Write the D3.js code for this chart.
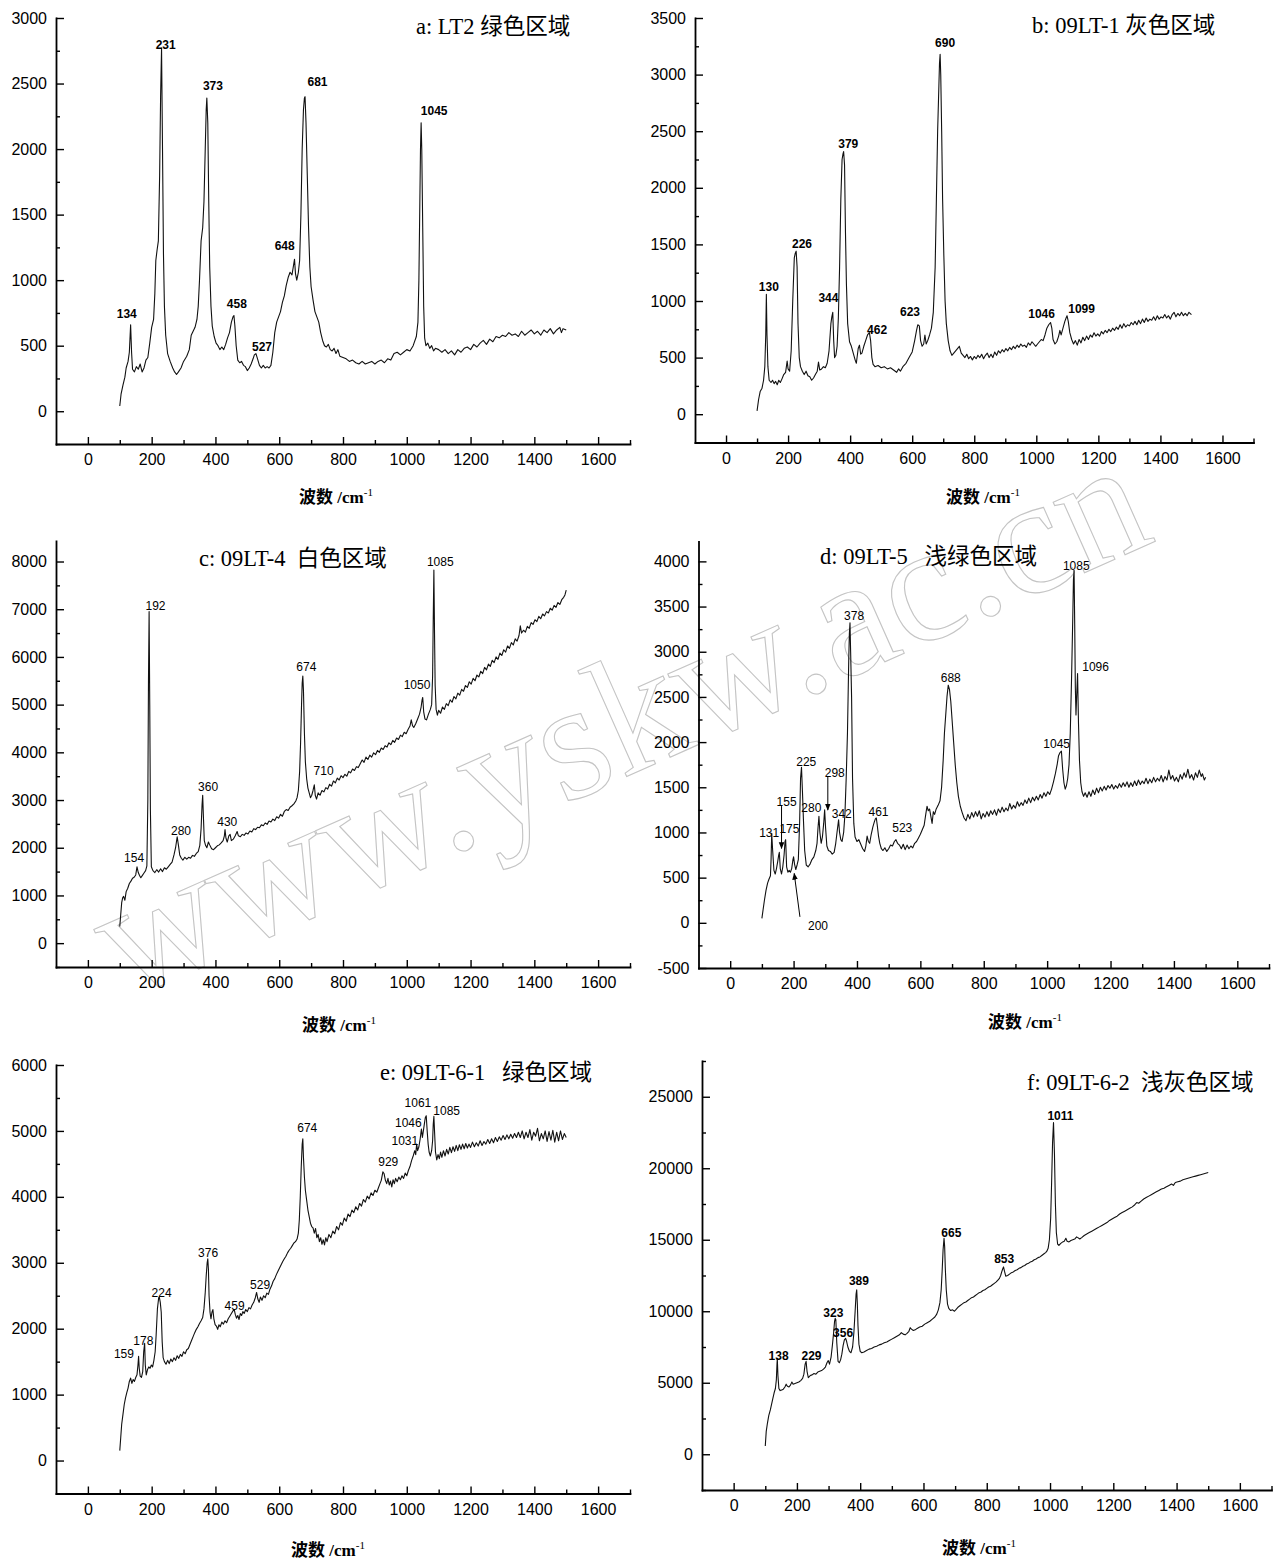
<!DOCTYPE html>
<html><head><meta charset="utf-8">
<script src="https://cdn.jsdelivr.net/npm/d3@7"></script>
<style>
body{margin:0;background:#fff}
svg{display:block}
.tick text{font-family:"Liberation Sans",Arial,sans-serif;font-size:16px;fill:#000}
.ptitle{font-family:"Liberation Serif","Noto Sans CJK SC",serif;font-size:22.5px;white-space:pre;fill:#000}
.xtitle{font-family:"Liberation Serif","Noto Sans CJK SC",serif;font-size:17px;font-weight:bold;white-space:pre;fill:#000}
.plabel{font-family:"Liberation Sans",Arial,sans-serif;font-size:12px;fill:#000}
</style>
</head><body>
<svg id="chart" width="1286" height="1564"></svg>
<script>
// ---------------- data ----------------
const xDomain = [-100, 1700];
const xTickLabels = [0, 200, 400, 600, 800, 1000, 1200, 1400, 1600];
const xMinorTicks = [100, 300, 500, 700, 900, 1100, 1300, 1500, 1700];

const titleA = "a: LT2 绿色区域";
const titleB = "b: 09LT-1 灰色区域";
const titleC = "c: 09LT-4  白色区域";
const titleD = "d: 09LT-5   浅绿色区域";
const titleE = "e: 09LT-6-1   绿色区域";
const titleF = "f: 09LT-6-2  浅灰色区域";

const yTicksA = [0, 500, 1000, 1500, 2000, 2500, 3000];
const yMinorA = [-250, 250, 750, 1250, 1750, 2250, 2750];
const yTicksB = [0, 500, 1000, 1500, 2000, 2500, 3000, 3500];
const yMinorB = [-250, 250, 750, 1250, 1750, 2250, 2750, 3250];
const yTicksC = [0, 1000, 2000, 3000, 4000, 5000, 6000, 7000, 8000];
const yMinorC = [-500, 500, 1500, 2500, 3500, 4500, 5500, 6500, 7500];
const yTicksD = [-500, 0, 500, 1000, 1500, 2000, 2500, 3000, 3500, 4000];
const yMinorD = [-250, 250, 750, 1250, 1750, 2250, 2750, 3250, 3750];
const yTicksE = [0, 1000, 2000, 3000, 4000, 5000, 6000];
const yMinorE = [-500, 500, 1500, 2500, 3500, 4500, 5500];
const yTicksF = [0, 5000, 10000, 15000, 20000, 25000];
const yMinorF = [-2500, 2500, 7500, 12500, 17500, 22500, 27500];

const specA = [[100,40],[104,130],[110,200],[116,260],[120,330],[126,380],[130,450],[134,660],[137,450],[140,320],[146,300],[152,340],[158,320],[164,360],[170,300],[176,330],[182,390],[188,410],[194,520],[200,640],[206,700],[210,900],[213,1150],[217,1230],[221,1300],[225,1800],[228,2400],[231,2770],[234,2000],[237,1200],[240,800],[244,580],[250,440],[258,380],[266,330],[272,300],[278,280],[284,300],[292,330],[300,380],[310,420],[318,470],[324,580],[330,610],[336,640],[342,700],[346,800],[350,1000],[355,1300],[360,1400],[364,1600],[368,2000],[371,2300],[373,2390],[376,2200],[379,1600],[382,1100],[386,800],[390,650],[396,570],[402,520],[408,500],[414,470],[420,490],[426,470],[432,510],[438,560],[444,600],[450,680],[455,720],[458,730],[461,650],[465,500],[470,390],[476,370],[482,380],[488,350],[494,340],[500,310],[506,330],[512,360],[518,400],[522,430],[527,440],[532,400],[538,350],[544,330],[550,350],[556,330],[562,340],[568,330],[574,350],[580,450],[586,600],[592,680],[598,720],[604,760],[610,830],[616,880],[622,960],[628,1020],[634,1060],[640,1040],[644,1100],[648,1160],[651,1050],[655,1000],[660,1060],[664,1150],[668,1500],[672,2000],[676,2300],[679,2390],[681,2400],[684,2200],[688,1800],[692,1400],[696,1100],[700,950],[706,850],[712,760],[718,720],[724,680],[730,600],[736,540],[742,500],[748,490],[754,510],[760,470],[766,460],[772,480],[778,440],[784,470],[790,420],[800,410],[810,400],[820,380],[830,390],[840,370],[850,360],[860,380],[870,360],[880,370],[890,380],[900,360],[910,380],[920,390],[930,370],[940,400],[950,390],[960,440],[970,450],[980,430],[990,450],[1000,470],[1010,460],[1020,500],[1030,570],[1035,680],[1038,1000],[1041,1600],[1043,2000],[1045,2200],[1047,2000],[1050,1400],[1053,800],[1056,560],[1060,500],[1066,520],[1072,480],[1078,500],[1084,460],[1090,480],[1100,470],[1110,450],[1120,470],[1130,440],[1140,460],[1150,430],[1160,470],[1170,450],[1180,480],[1190,490],[1200,470],[1210,510],[1220,490],[1230,520],[1240,540],[1250,510],[1260,550],[1270,530],[1280,570],[1290,560],[1300,580],[1310,570],[1320,600],[1330,580],[1340,590],[1350,570],[1360,610],[1370,580],[1380,600],[1390,620],[1400,590],[1410,610],[1420,580],[1430,620],[1440,600],[1450,630],[1460,590],[1470,620],[1480,640],[1485,600],[1490,630],[1500,620]];

const specB = [[100,30],[105,130],[110,200],[116,230],[121,300],[125,420],[128,700],[130,1060],[132,700],[135,420],[139,300],[145,280],[150,300],[155,270],[160,290],[165,260],[170,300],[175,280],[180,310],[186,350],[192,370],[197,470],[200,400],[205,380],[210,560],[215,1000],[220,1380],[223,1420],[226,1440],[229,1300],[232,800],[236,500],[240,420],[246,380],[252,350],[258,380],[264,340],[270,330],[276,300],[282,320],[288,350],[294,380],[298,460],[302,390],[308,400],[314,420],[320,410],[326,450],[332,560],[338,800],[341,860],[344,900],[347,650],[350,500],[354,520],[358,600],[362,850],[366,1300],[370,1900],[374,2250],[377,2300],[379,2320],[382,2200],[385,1600],[388,1150],[392,800],[398,640],[404,600],[410,540],[416,480],[420,450],[426,580],[430,610],[434,530],[438,540],[444,600],[450,650],[456,700],[462,720],[466,650],[470,500],[474,440],[480,420],[490,430],[500,410],[510,420],[520,400],[530,410],[540,390],[550,370],[556,400],[562,380],[570,420],[580,450],[590,500],[600,550],[608,650],[614,740],[618,790],[623,780],[627,650],[632,600],[637,620],[641,700],[645,620],[650,650],[656,700],[662,760],[668,900],[674,1300],[678,1900],[682,2500],[686,2900],[688,3100],[690,3180],[692,3000],[695,2500],[698,1900],[702,1400],[706,1000],[710,800],[716,650],[722,560],[728,520],[734,540],[740,560],[746,580],[752,600],[758,540],[764,520],[770,500],[776,530],[782,490],[788,510],[794,480],[800,510],[806,490],[812,520],[818,500],[824,530],[830,490],[836,520],[842,540],[848,500],[854,530],[860,500],[866,550],[872,520],[878,560],[884,540],[890,570],[896,550],[902,580],[908,560],[914,590],[920,570],[926,600],[932,580],[938,610],[944,590],[950,620],[956,600],[962,610],[968,590],[974,630],[980,610],[986,640],[992,620],[998,600],[1004,620],[1010,640],[1016,660],[1022,650],[1028,700],[1034,760],[1040,790],[1046,810],[1050,760],[1054,660],[1060,620],[1066,640],[1072,690],[1076,740],[1080,700],[1086,760],[1092,820],[1096,850],[1099,870],[1103,820],[1108,720],[1114,660],[1120,620],[1126,650],[1132,610],[1138,660],[1144,630],[1150,680],[1156,650],[1162,690],[1168,660],[1174,700],[1180,680],[1186,720],[1192,690],[1198,710],[1204,690],[1210,730],[1216,710],[1222,740],[1228,720],[1234,750],[1240,730],[1246,760],[1252,740],[1258,770],[1264,750],[1270,790],[1276,760],[1282,800],[1288,770],[1294,790],[1300,780],[1306,810],[1312,790],[1318,820],[1324,790],[1330,830],[1336,800],[1342,840],[1348,810],[1354,850],[1360,820],[1366,840],[1372,830],[1378,860],[1384,830],[1390,870],[1396,840],[1402,860],[1408,850],[1414,880],[1420,850],[1426,870],[1432,840],[1438,880],[1444,900],[1450,860],[1456,890],[1462,870],[1468,900],[1474,870],[1480,890],[1486,870],[1492,900],[1500,880]];

const specC = [[100,350],[103,600],[106,850],[109,950],[112,980],[116,900],[120,1080],[125,1150],[130,1250],[135,1300],[140,1360],[145,1380],[150,1430],[154,1600],[158,1480],[162,1420],[166,1370],[171,1420],[176,1470],[181,1520],[185,1620],[188,3000],[190,5500],[192,6950],[194,5000],[196,2800],[199,1600],[204,1520],[210,1480],[216,1540],[222,1490],[228,1560],[234,1500],[240,1580],[246,1550],[252,1600],[258,1650],[264,1700],[270,1850],[275,2000],[280,2230],[284,2050],[288,1850],[293,1780],[298,1740],[304,1800],[310,1760],[316,1800],[322,1780],[328,1840],[334,1820],[340,1880],[346,1920],[351,2050],[355,2400],[358,2900],[360,3100],[362,2700],[365,2150],[369,2050],[373,2000],[378,2120],[382,2060],[388,1980],[394,1960],[400,2000],[406,2040],[412,2060],[418,2100],[424,2150],[428,2250],[430,2380],[433,2200],[437,2120],[442,2250],[446,2280],[450,2150],[456,2180],[462,2250],[468,2340],[472,2250],[478,2230],[484,2280],[490,2260],[496,2310],[502,2290],[508,2350],[514,2330],[520,2400],[526,2380],[532,2430],[538,2420],[544,2480],[550,2460],[556,2520],[562,2490],[568,2560],[574,2540],[580,2600],[586,2570],[592,2650],[598,2620],[604,2700],[610,2660],[616,2760],[622,2800],[628,2780],[634,2850],[640,2880],[646,2920],[652,2980],[656,3050],[660,3200],[664,3600],[667,4200],[670,5000],[672,5450],[674,5600],[676,5300],[679,4400],[682,3800],[686,3450],[690,3250],[694,3150],[698,3050],[702,3100],[706,3200],[710,3320],[713,3100],[717,3020],[722,3150],[728,3100],[734,3200],[740,3170],[746,3260],[752,3230],[758,3330],[764,3290],[770,3400],[776,3360],[782,3460],[788,3420],[794,3510],[800,3470],[806,3540],[812,3500],[818,3600],[824,3570],[830,3650],[836,3620],[842,3700],[848,3680],[854,3760],[860,3840],[866,3790],[872,3900],[878,3850],[884,3940],[890,3900],[896,3990],[902,3950],[908,4040],[914,4000],[920,4090],[926,4060],[932,4140],[938,4110],[944,4200],[950,4160],[956,4250],[962,4210],[968,4300],[974,4270],[980,4360],[986,4330],[992,4420],[998,4390],[1004,4480],[1010,4550],[1014,4680],[1018,4560],[1022,4520],[1028,4600],[1034,4700],[1040,4800],[1045,4950],[1048,5100],[1050,5150],[1053,4850],[1057,4700],[1062,4680],[1068,4800],[1074,4900],[1078,5000],[1081,5600],[1083,6800],[1085,7820],[1087,6500],[1089,5400],[1092,4900],[1096,4780],[1100,4880],[1106,4820],[1112,4950],[1118,4900],[1124,5020],[1130,4980],[1136,5100],[1142,5050],[1148,5170],[1154,5120],[1160,5240],[1166,5200],[1172,5320],[1178,5280],[1184,5400],[1190,5360],[1196,5480],[1202,5430],[1208,5550],[1214,5500],[1220,5620],[1226,5580],[1232,5700],[1238,5650],[1244,5780],[1250,5730],[1256,5850],[1262,5800],[1268,5930],[1274,5880],[1280,6000],[1286,5950],[1292,6080],[1298,6030],[1304,6150],[1310,6100],[1316,6230],[1322,6180],[1328,6300],[1334,6250],[1340,6380],[1346,6330],[1352,6450],[1356,6650],[1360,6500],[1366,6560],[1372,6520],[1378,6640],[1384,6600],[1390,6720],[1396,6680],[1402,6780],[1408,6740],[1414,6850],[1420,6800],[1426,6900],[1432,6860],[1438,6950],[1444,6920],[1450,7020],[1456,6980],[1462,7080],[1468,7040],[1474,7140],[1480,7100],[1486,7200],[1492,7250],[1496,7300],[1500,7400]];

const specD = [[100,50],[104,150],[108,250],[113,360],[118,440],[122,480],[127,520],[129,700],[131,990],[134,800],[138,580],[142,540],[146,600],[150,680],[153,750],[155,780],[158,600],[162,540],[166,620],[170,750],[173,900],[175,920],[178,620],[182,560],[186,580],[190,560],[194,600],[198,700],[200,730],[203,650],[207,590],[211,640],[215,700],[219,1100],[222,1600],[225,1720],[228,1450],[231,1150],[235,800],[240,640],[246,620],[252,650],[258,700],[264,730],[270,800],[274,880],[277,1050],[280,1180],[283,1000],[287,880],[291,950],[295,1100],[298,1250],[301,1050],[305,850],[310,800],[316,790],[322,760],[328,780],[333,880],[337,1000],[342,1140],[345,1000],[349,920],[353,900],[358,1000],[362,1200],[366,1600],[370,2100],[374,2900],[376,3200],[378,3320],[380,3000],[383,2500],[386,1600],[390,1100],[394,950],[400,900],[406,920],[412,870],[418,820],[424,790],[428,850],[432,960],[436,900],[440,880],[445,980],[450,1060],[455,1120],[458,1150],[461,1160],[464,1080],[468,960],[472,880],[477,820],[482,800],[488,830],[494,790],[500,820],[506,860],[512,850],[518,900],[523,920],[528,880],[534,860],[540,820],[546,870],[552,810],[558,860],[564,820],[570,850],[576,830],[582,880],[588,900],[594,940],[600,980],[606,1030],[612,1080],[617,1200],[621,1290],[625,1240],[629,1260],[633,1180],[637,1100],[641,1230],[645,1200],[650,1260],[656,1300],[662,1350],[667,1500],[672,1800],[676,2100],[680,2300],[684,2500],[688,2630],[692,2580],[696,2450],[700,2250],[705,2000],[710,1750],[715,1550],[720,1400],[726,1290],[732,1220],[738,1160],[744,1130],[750,1200],[756,1150],[762,1220],[768,1170],[774,1230],[780,1180],[786,1240],[792,1150],[798,1210],[804,1170],[810,1230],[816,1180],[822,1240],[828,1200],[834,1250],[840,1190],[846,1260],[852,1220],[858,1280],[864,1230],[870,1270],[876,1240],[882,1320],[888,1260],[894,1300],[900,1270],[906,1340],[912,1290],[918,1330],[924,1300],[930,1360],[936,1320],[942,1380],[948,1330],[954,1390],[960,1350],[966,1400],[972,1360],[978,1420],[984,1380],[990,1440],[996,1400],[1002,1450],[1008,1420],[1014,1480],[1020,1560],[1026,1650],[1032,1760],[1036,1850],[1040,1880],[1045,1900],[1049,1700],[1053,1550],[1057,1480],[1061,1520],[1065,1600],[1069,1750],[1073,2100],[1077,2700],[1081,3400],[1083,3800],[1085,3900],[1087,3300],[1089,2600],[1091,2300],[1093,2500],[1096,2760],[1099,2200],[1102,1800],[1106,1550],[1110,1450],[1115,1400],[1120,1440],[1126,1390],[1132,1450],[1138,1400],[1144,1470],[1150,1420],[1156,1490],[1162,1440],[1168,1500],[1174,1460],[1180,1510],[1186,1470],[1192,1520],[1198,1490],[1204,1530],[1210,1480],[1216,1520],[1222,1490],[1228,1540],[1234,1500],[1240,1550],[1246,1510],[1252,1560],[1258,1500],[1264,1550],[1270,1510],[1276,1570],[1282,1520],[1288,1580],[1294,1530],[1300,1570],[1306,1540],[1312,1600],[1318,1540],[1324,1590],[1330,1550],[1336,1610],[1342,1560],[1348,1600],[1354,1570],[1360,1630],[1366,1560],[1372,1620],[1378,1580],[1384,1690],[1390,1590],[1396,1630],[1402,1570],[1408,1610],[1414,1560],[1420,1640],[1426,1590],[1432,1660],[1438,1610],[1444,1700],[1450,1600],[1456,1640],[1462,1580],[1468,1660],[1474,1610],[1480,1690],[1486,1620],[1490,1650],[1496,1580],[1500,1610]];

const specE = [[100,150],[103,350],[106,550],[110,700],[114,850],[118,950],[122,1030],[126,1100],[130,1200],[134,1250],[138,1170],[142,1230],[146,1200],[150,1260],[154,1300],[157,1450],[159,1580],[161,1400],[164,1280],[168,1260],[172,1350],[175,1650],[178,1780],[180,1450],[183,1300],[187,1380],[191,1420],[195,1400],[199,1450],[203,1420],[207,1520],[211,1650],[214,1900],[218,2300],[222,2470],[224,2480],[227,2400],[230,2250],[233,1800],[236,1560],[240,1500],[245,1460],[250,1520],[255,1470],[260,1540],[265,1500],[270,1560],[275,1520],[280,1590],[285,1550],[290,1610],[295,1580],[300,1650],[305,1620],[310,1680],[315,1700],[320,1760],[325,1820],[330,1880],[335,1940],[340,1990],[345,2030],[350,2080],[355,2120],[360,2170],[364,2300],[368,2550],[371,2800],[374,3000],[376,3060],[378,2900],[380,2500],[383,2250],[386,2150],[389,2250],[392,2290],[395,2150],[399,2060],[403,2040],[407,1990],[411,2060],[415,2030],[420,2100],[425,2070],[430,2120],[435,2090],[440,2150],[445,2190],[450,2230],[455,2270],[459,2290],[462,2220],[466,2160],[470,2200],[474,2140],[478,2230],[482,2200],[486,2260],[490,2230],[495,2290],[500,2260],[505,2320],[510,2300],[515,2360],[520,2400],[525,2470],[529,2550],[533,2450],[537,2400],[541,2480],[546,2430],[551,2500],[556,2470],[561,2540],[566,2520],[571,2600],[576,2650],[581,2720],[586,2760],[591,2820],[596,2870],[601,2920],[606,2970],[611,3020],[616,3060],[621,3100],[626,3150],[631,3190],[636,3220],[641,3260],[646,3300],[651,3320],[656,3360],[660,3450],[663,3650],[666,4000],[669,4450],[672,4800],[674,4880],[676,4600],[679,4300],[682,4100],[686,3950],[690,3800],[694,3700],[698,3600],[702,3550],[706,3530],[710,3450],[714,3520],[718,3380],[722,3430],[726,3320],[730,3380],[734,3280],[738,3350],[742,3270],[746,3380],[750,3320],[756,3430],[762,3380],[768,3480],[774,3440],[780,3550],[786,3500],[792,3610],[798,3570],[804,3680],[810,3630],[816,3740],[822,3700],[828,3800],[834,3760],[840,3850],[846,3800],[852,3900],[858,3860],[864,3960],[870,3920],[876,4010],[882,3970],[888,4060],[894,4020],[900,4100],[906,4070],[912,4150],[916,4200],[920,4250],[925,4380],[929,4350],[933,4250],[937,4200],[941,4280],[945,4180],[949,4240],[953,4150],[957,4260],[961,4200],[965,4280],[970,4230],[975,4300],[980,4260],[985,4320],[990,4280],[995,4360],[1000,4320],[1005,4400],[1010,4460],[1015,4550],[1020,4620],[1025,4700],[1028,4640],[1031,4800],[1034,4700],[1038,4760],[1042,4880],[1046,5030],[1049,4900],[1052,5000],[1055,5100],[1058,5200],[1061,5230],[1064,5000],[1067,4800],[1070,4680],[1074,4620],[1078,4700],[1081,4850],[1083,5100],[1085,5220],[1087,5000],[1090,4680],[1094,4560],[1098,4640],[1102,4580],[1106,4680],[1110,4600],[1115,4700],[1120,4620],[1125,4720],[1130,4650],[1135,4750],[1140,4670],[1145,4760],[1150,4690],[1155,4780],[1160,4700],[1165,4790],[1170,4720],[1175,4800],[1180,4730],[1185,4810],[1190,4740],[1195,4800],[1200,4750],[1206,4830],[1212,4760],[1218,4820],[1224,4770],[1230,4850],[1236,4780],[1242,4840],[1248,4800],[1254,4870],[1260,4810],[1266,4880],[1272,4820],[1278,4900],[1284,4840],[1290,4910],[1296,4860],[1302,4930],[1308,4870],[1314,4940],[1320,4880],[1326,4950],[1332,4890],[1338,4960],[1344,4900],[1350,4980],[1356,4900],[1362,5000],[1368,4880],[1374,4980],[1380,4900],[1386,5020],[1392,4860],[1398,4980],[1404,4920],[1410,5040],[1416,4850],[1422,4960],[1428,4880],[1434,5000],[1440,4840],[1446,4990],[1452,4860],[1458,5010],[1464,4830],[1470,4980],[1476,4850],[1482,5000],[1488,4870],[1494,4960],[1500,4900]];

const specF = [[100,580],[103,1600],[107,2200],[111,2700],[116,3100],[120,3500],[124,3900],[128,4300],[132,4600],[135,5200],[137,6300],[138,6700],[140,5500],[143,4600],[147,4450],[152,4500],[157,4550],[162,4700],[166,4900],[170,4750],[175,4700],[180,4850],[184,5050],[188,4900],[194,4950],[200,5000],[206,5050],[212,5150],[218,5300],[222,5600],[226,6300],[229,6500],[232,5800],[236,5350],[242,5500],[248,5550],[254,5650],[260,5600],[266,5750],[272,5800],[278,5850],[284,5950],[290,6100],[295,6400],[299,6550],[303,6300],[308,6800],[312,7600],[316,8500],[319,9300],[321,9500],[323,9400],[326,7800],[330,6500],[334,6400],[338,6600],[342,7000],[346,7600],[350,8000],[354,8100],[357,7900],[361,7500],[366,7200],[371,7100],[376,7500],[380,8500],[384,10000],[387,11200],[389,11500],[391,10500],[393,9000],[396,7700],[400,7200],[405,7100],[412,7150],[420,7250],[428,7350],[436,7400],[444,7500],[452,7550],[460,7650],[468,7700],[476,7800],[484,7850],[492,7950],[500,8050],[508,8150],[516,8250],[524,8350],[530,8500],[536,8400],[542,8350],[548,8450],[554,8600],[558,8850],[562,8750],[568,8650],[574,8700],[580,8800],[588,8900],[596,8950],[604,9100],[612,9200],[620,9300],[628,9450],[636,9600],[642,9800],[647,10100],[652,10600],[656,11500],[659,12800],[662,14300],[665,15100],[667,14500],[669,13000],[672,11500],[676,10500],[680,10200],[686,10050],[692,10100],[698,10000],[704,10150],[710,10300],[716,10400],[722,10500],[728,10600],[734,10650],[740,10750],[746,10850],[752,10950],[758,11000],[764,11100],[770,11200],[776,11300],[782,11350],[788,11450],[794,11500],[800,11600],[806,11700],[812,11750],[818,11850],[824,11950],[830,12050],[836,12200],[840,12300],[844,12500],[848,12800],[851,13000],[853,13100],[856,12800],[860,12450],[866,12500],[872,12600],[878,12700],[884,12750],[890,12850],[896,12900],[902,13000],[908,13050],[914,13150],[920,13200],[926,13300],[932,13350],[938,13450],[944,13500],[950,13600],[956,13650],[962,13750],[968,13800],[974,13900],[980,14000],[986,14100],[990,14200],[994,14400],[998,15000],[1002,16500],[1005,19000],[1008,21800],[1011,23200],[1014,21000],[1017,17500],[1020,15500],[1024,14700],[1028,14600],[1034,14750],[1040,14850],[1045,14900],[1050,15100],[1054,14900],[1060,14850],[1066,14950],[1072,15000],[1078,15050],[1084,15200],[1088,15150],[1094,15050],[1100,15150],[1108,15300],[1116,15400],[1124,15500],[1132,15600],[1140,15700],[1148,15800],[1156,15900],[1164,16000],[1172,16100],[1180,16200],[1188,16350],[1196,16450],[1204,16550],[1212,16650],[1220,16800],[1228,16900],[1236,17000],[1244,17100],[1252,17200],[1260,17300],[1268,17450],[1274,17600],[1280,17550],[1288,17700],[1296,17850],[1304,17950],[1312,18050],[1320,18150],[1328,18250],[1336,18350],[1344,18450],[1352,18550],[1360,18600],[1368,18700],[1376,18800],[1384,18900],[1390,18800],[1396,19000],[1404,19050],[1412,19100],[1420,19200],[1428,19250],[1436,19300],[1444,19350],[1452,19400],[1460,19450],[1468,19500],[1476,19550],[1484,19600],[1492,19650],[1500,19700]];

// peak labels: [text, wavenumber, intensity]
const peaksA = [["134",122,713],["231",244,2760],["373",392,2450],["458",467,789],["527",546,460],["648",617,1231],["681",720,2482],["1045",1086,2260]];
const peaksB = [["130",138,1087],["226",245,1471],["344",330,989],["379",394,2354],["462",487,709],["623",593,865],["690",706,3242],["1046",1017,850],["1099",1146,895]];
const peaksC = [["154",145,1699],["192",212,6990],["280",292,2258],["360",377,3180],["430",437,2460],["674",685,5697],["710",739,3530],["1050",1032,5333],["1085",1105,7913]];
const peaksD = [["131",123,945],["155",178,1296],["175",187,990],["200",277,-74],["225",240,1739],["280",256,1230],["298",330,1617],["342",352,1156],["378",391,3353],["461",468,1182],["523",543,1008],["688",696,2670],["1045",1030,1939],["1085",1092,3907],["1096",1153,2788]];
const peaksE = [["159",113,1556],["178",174,1759],["224",231,2483],["376",377,3091],["459",460,2291],["529",540,2595],["674",688,4977],["929",942,4470],["1031",994,4784],["1046",1005,5063],["1061",1035,5357],["1085",1125,5245]];
const peaksF = [["138",142,6588],["229",246,6588],["323",315,9578],["356",346,8223],["389",396,11844],["665",688,15184],["853",855,13385],["1011",1033,23360]];

// arrows in panel d: [x1, y1, x2, y2] (arrowhead at x2,y2)
const arrowsD = [[162,1292,162,823],[308,1617,308,1248],[220,66,202,547]];

const axisTitle = "波数 /cm";
const axisTitleSup = "-1";
const watermark = "www.yskw.ac.cn";

// ---------------- layout ----------------
const panels = [
  {data:specA, peaks:peaksA, title:titleA, yDomain:[-250,3000], yTicks:yTicksA, yMinor:yMinorA, bold:true,
   box:{l:56,r:630,t:18,b:444}, tPos:[416,34], aPos:[336,503]},
  {data:specB, peaks:peaksB, title:titleB, yDomain:[-250,3500], yTicks:yTicksB, yMinor:yMinorB, bold:true,
   box:{l:695,r:1253.5,t:18,b:442.5}, tPos:[1032,33], aPos:[983,503]},
  {data:specC, peaks:peaksC, title:titleC, yDomain:[-500,8430], yTicks:yTicksC, yMinor:yMinorC, bold:false,
   box:{l:56,r:630,t:541,b:967}, tPos:[199,566], aPos:[339,1031]},
  {data:specD, peaks:peaksD, title:titleD, yDomain:[-500,4220], yTicks:yTicksD, yMinor:yMinorD, bold:false,
   box:{l:698.5,r:1269,t:541.5,b:968}, tPos:[820,564], aPos:[1025,1028], arrows:arrowsD},
  {data:specE, peaks:peaksE, title:titleE, yDomain:[-500,6000], yTicks:yTicksE, yMinor:yMinorE, bold:false,
   box:{l:56,r:630,t:1065,b:1493.5}, tPos:[380,1080], aPos:[328,1556]},
  {data:specF, peaks:peaksF, title:titleF, yDomain:[-2500,27500], yTicks:yTicksF, yMinor:yMinorF, bold:true,
   box:{l:702,r:1271.5,t:1061,b:1490}, tPos:[1027,1090], aPos:[979,1554]}
];

const svg = d3.select("#chart");
svg.append("rect").attr("width",1286).attr("height",1564).attr("fill","#fff");

const defs = svg.append("defs");
defs.append("marker").attr("id","arrowhead").attr("viewBox","0 0 10 10")
  .attr("refX",9).attr("refY",5).attr("markerWidth",7).attr("markerHeight",9)
  .attr("orient","auto").attr("markerUnits","userSpaceOnUse")
  .append("path").attr("d","M0,1 L10,5 L0,9 Z").attr("fill","#000");

// watermark (drawn first, faint outline)
svg.append("text")
  .attr("transform","translate(125,1000) rotate(-24)")
  .attr("font-family","Liberation Serif, serif")
  .attr("font-size",168)
  .attr("fill","none").attr("stroke","#c4c4c4").attr("stroke-width",1.1)
  .text(watermark);

panels.forEach(p => {
  const b = p.box;
  const x = d3.scaleLinear().domain(xDomain).range([b.l, b.r]);
  const y = d3.scaleLinear().domain(p.yDomain).range([b.b, b.t]);
  const g = svg.append("g");

  const styleAxis = sel => {
    sel.selectAll("path.domain").attr("stroke","#000").attr("stroke-width",1.8).attr("stroke-linecap","square");
    sel.selectAll(".tick line").attr("stroke","#000").attr("stroke-width",1.4);
    sel.attr("font-family",null).attr("font-size",null);
  };

  // minor ticks
  g.append("g").attr("transform",`translate(${b.l},0)`)
    .call(d3.axisLeft(y).tickValues(p.yMinor.filter(v=>v>=p.yDomain[0]&&v<=p.yDomain[1])).tickSize(-4).tickFormat(""))
    .call(s=>s.select(".domain").remove()).call(styleAxis);
  g.append("g").attr("transform",`translate(0,${b.b})`)
    .call(d3.axisBottom(x).tickValues(xMinorTicks).tickSize(-4).tickFormat(""))
    .call(s=>s.select(".domain").remove()).call(styleAxis);

  // major axes
  g.append("g").attr("transform",`translate(${b.l},0)`)
    .call(d3.axisLeft(y).tickValues(p.yTicks).tickSizeInner(-8).tickSizeOuter(0).tickPadding(9).tickFormat(d=>String(d)))
    .call(styleAxis);
  g.append("g").attr("transform",`translate(0,${b.b})`)
    .call(d3.axisBottom(x).tickValues(xTickLabels).tickSizeInner(-7).tickSizeOuter(0).tickPadding(10).tickFormat(d=>String(d)))
    .call(styleAxis);

  // spectrum
  const line = d3.line().x(d=>x(d[0])).y(d=>y(d[1]));
  g.append("path").datum(p.data).attr("d",line)
    .attr("fill","none").attr("stroke","#111").attr("stroke-width",1.1).attr("stroke-linejoin","round");

  // peak labels
  g.selectAll("text.plabel").data(p.peaks).join("text").attr("class","plabel")
    .attr("x",d=>x(d[1])).attr("y",d=>y(d[2])).attr("text-anchor","middle")
    .attr("font-weight",p.bold?"bold":"normal").text(d=>d[0]);

  // arrows
  if (p.arrows) {
    g.selectAll("line.arrow").data(p.arrows).join("line").attr("class","arrow")
      .attr("x1",d=>x(d[0])).attr("y1",d=>y(d[1])).attr("x2",d=>x(d[2])).attr("y2",d=>y(d[3]))
      .attr("stroke","#000").attr("stroke-width",1).attr("marker-end","url(#arrowhead)");
  }

  // panel title
  g.append("text").attr("class","ptitle").attr("x",p.tPos[0]).attr("y",p.tPos[1]).text(p.title);

  // x-axis title
  const t = g.append("text").attr("class","xtitle").attr("x",p.aPos[0]).attr("y",p.aPos[1]).attr("text-anchor","middle");
  t.append("tspan").text(axisTitle);
  t.append("tspan").attr("dy",-7).attr("font-size",11).attr("font-weight","normal").text(axisTitleSup);
});
</script>
</body></html>
